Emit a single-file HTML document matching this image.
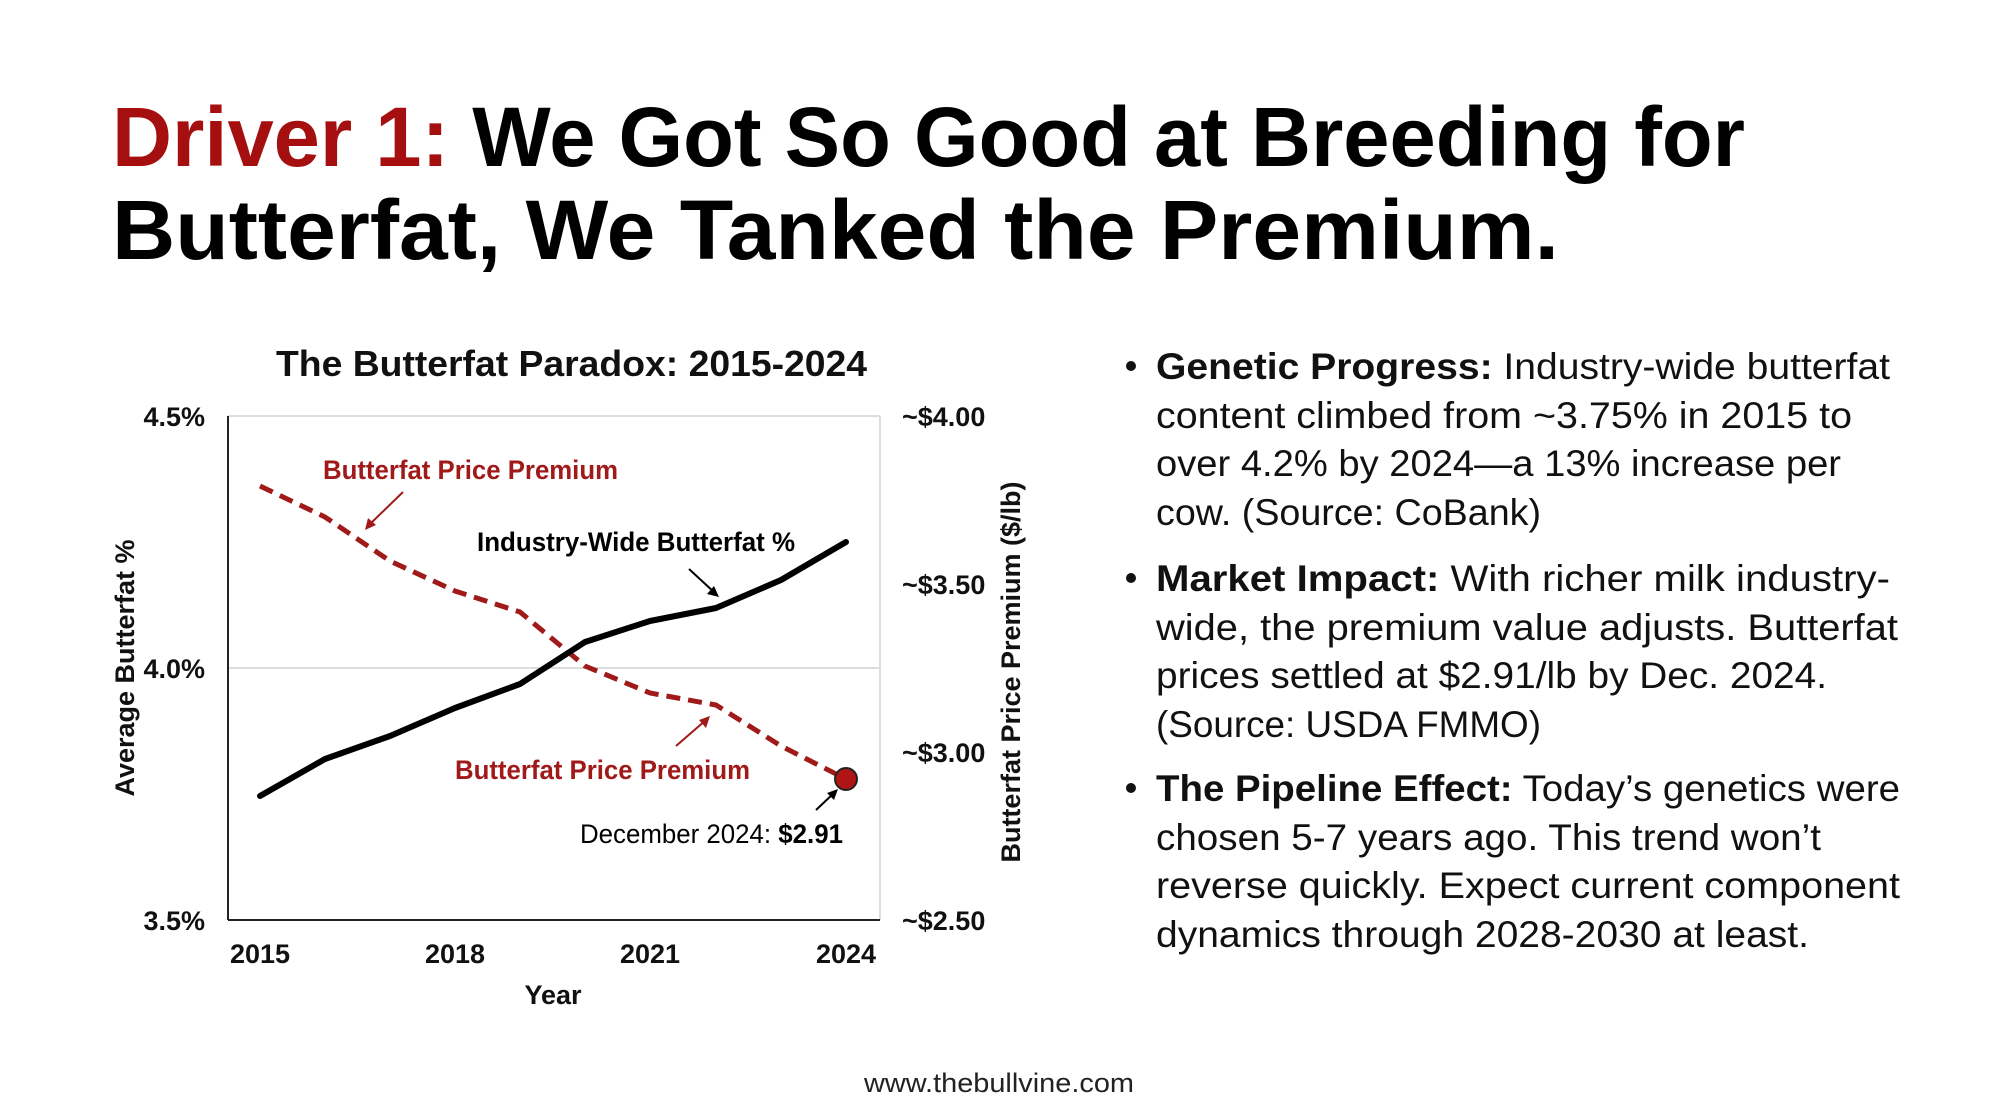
<!DOCTYPE html>
<html><head><meta charset="utf-8"><style>
html,body{margin:0;padding:0;background:#fff;}
svg{display:block;}
</style></head><body>
<svg width="2000" height="1116" viewBox="0 0 2000 1116" xmlns="http://www.w3.org/2000/svg" font-family="Liberation Sans, sans-serif">
<rect width="2000" height="1116" fill="#fff"/>
<!-- Title -->
<text x="112" y="166" font-size="84" font-weight="bold" textLength="1633" lengthAdjust="spacingAndGlyphs"><tspan fill="#a50f0f">Driver 1:</tspan><tspan fill="#000"> We Got So Good at Breeding for</tspan></text>
<text x="112" y="259" font-size="84" font-weight="bold" fill="#000" textLength="1447" lengthAdjust="spacingAndGlyphs">Butterfat, We Tanked the Premium.</text>

<!-- Chart title -->
<text x="276" y="376" font-size="36" font-weight="bold" fill="#111" textLength="591" lengthAdjust="spacingAndGlyphs">The Butterfat Paradox: 2015-2024</text>

<!-- grid -->
<line x1="228" y1="416" x2="880" y2="416" stroke="#ddd" stroke-width="2"/>
<line x1="228" y1="668" x2="880" y2="668" stroke="#ddd" stroke-width="2"/>
<line x1="880" y1="416" x2="880" y2="920" stroke="#ddd" stroke-width="2"/>
<line x1="228" y1="416" x2="228" y2="920" stroke="#222" stroke-width="2"/>
<line x1="228" y1="920" x2="880" y2="920" stroke="#222" stroke-width="2"/>

<!-- left ticks -->
<g font-size="27" font-weight="bold" fill="#111" text-anchor="end">
<text x="205" y="426">4.5%</text>
<text x="205" y="678">4.0%</text>
<text x="205" y="930">3.5%</text>
</g>
<g font-size="27" font-weight="bold" fill="#111">
<text x="902" y="426">~$4.00</text>
<text x="902" y="594">~$3.50</text>
<text x="902" y="762">~$3.00</text>
<text x="902" y="930">~$2.50</text>
</g>
<g font-size="27" font-weight="bold" fill="#111" text-anchor="middle">
<text x="260" y="963">2015</text>
<text x="455" y="963">2018</text>
<text x="650" y="963">2021</text>
<text x="846" y="963">2024</text>
<text x="553" y="1004">Year</text>
</g>
<text transform="translate(134,668) rotate(-90)" font-size="27" font-weight="bold" fill="#111" text-anchor="middle">Average Butterfat %</text>
<text transform="translate(1020,672) rotate(-90)" font-size="27" font-weight="bold" fill="#111" text-anchor="middle">Butterfat Price Premium ($/lb)</text>

<!-- series -->
<polyline points="260,486 325,517 390,561 455,591 520,612 585,666 650,693 716,705 781,746 846,779" fill="none" stroke="#a01a1a" stroke-width="5" stroke-dasharray="14,8"/>
<polyline points="260,796 325,759 390,736 455,708 520,684 585,642 650,621 716,608 781,580 846,542" fill="none" stroke="#000" stroke-width="6" stroke-linejoin="round" stroke-linecap="round"/>
<circle cx="846" cy="779" r="11" fill="#b01515" stroke="#222" stroke-width="2"/>

<!-- annotations -->
<text x="323" y="479" font-size="27" font-weight="bold" fill="#a01a1a" textLength="295" lengthAdjust="spacingAndGlyphs">Butterfat Price Premium</text>
<line x1="403" y1="492" x2="368" y2="526" stroke="#a01a1a" stroke-width="2"/>
<polygon points="365,530 368,518 376,525" fill="#a01a1a"/>
<text x="477" y="551" font-size="27" font-weight="bold" fill="#000" textLength="318" lengthAdjust="spacingAndGlyphs">Industry-Wide Butterfat %</text>
<line x1="689" y1="569" x2="715" y2="593" stroke="#000" stroke-width="2"/>
<polygon points="719,597 707,594 714,586" fill="#000"/>
<text x="455" y="779" font-size="27" font-weight="bold" fill="#a01a1a" textLength="295" lengthAdjust="spacingAndGlyphs">Butterfat Price Premium</text>
<line x1="676" y1="746" x2="706" y2="720" stroke="#a01a1a" stroke-width="2"/>
<polygon points="710,716 706,728 699,720" fill="#a01a1a"/>
<text x="580" y="843" font-size="27" fill="#000" textLength="263" lengthAdjust="spacingAndGlyphs">December 2024: <tspan font-weight="bold">$2.91</tspan></text>
<line x1="816" y1="810" x2="834" y2="793" stroke="#000" stroke-width="2"/>
<polygon points="838,789 834,800 827,793" fill="#000"/>

<!-- bullets -->
<g font-size="37" fill="#111">
<circle cx="1131" cy="366" r="5" fill="#111"/>
<text x="1156" y="379" textLength="734" lengthAdjust="spacingAndGlyphs"><tspan font-weight="bold">Genetic Progress:</tspan> Industry-wide butterfat</text>
<text x="1156" y="428" textLength="696" lengthAdjust="spacingAndGlyphs">content climbed from ~3.75% in 2015 to</text>
<text x="1156" y="476" textLength="685" lengthAdjust="spacingAndGlyphs">over 4.2% by 2024—a 13% increase per</text>
<text x="1156" y="525" textLength="385" lengthAdjust="spacingAndGlyphs">cow. (Source: CoBank)</text>

<circle cx="1131" cy="578" r="5" fill="#111"/>
<text x="1156" y="591" textLength="734" lengthAdjust="spacingAndGlyphs"><tspan font-weight="bold">Market Impact:</tspan> With richer milk industry-</text>
<text x="1156" y="640" textLength="742" lengthAdjust="spacingAndGlyphs">wide, the premium value adjusts. Butterfat</text>
<text x="1156" y="688" textLength="671" lengthAdjust="spacingAndGlyphs">prices settled at $2.91/lb by Dec. 2024.</text>
<text x="1156" y="737" textLength="385" lengthAdjust="spacingAndGlyphs">(Source: USDA FMMO)</text>

<circle cx="1131" cy="788" r="5" fill="#111"/>
<text x="1156" y="801" textLength="744" lengthAdjust="spacingAndGlyphs"><tspan font-weight="bold">The Pipeline Effect:</tspan> Today’s genetics were</text>
<text x="1156" y="850" textLength="665" lengthAdjust="spacingAndGlyphs">chosen 5-7 years ago. This trend won’t</text>
<text x="1156" y="898" textLength="744" lengthAdjust="spacingAndGlyphs">reverse quickly. Expect current component</text>
<text x="1156" y="947" textLength="653" lengthAdjust="spacingAndGlyphs">dynamics through 2028-2030 at least.</text>
</g>

<text x="999" y="1092" font-size="27" fill="#222" text-anchor="middle" textLength="270" lengthAdjust="spacingAndGlyphs">www.thebullvine.com</text>
</svg>
</body></html>
